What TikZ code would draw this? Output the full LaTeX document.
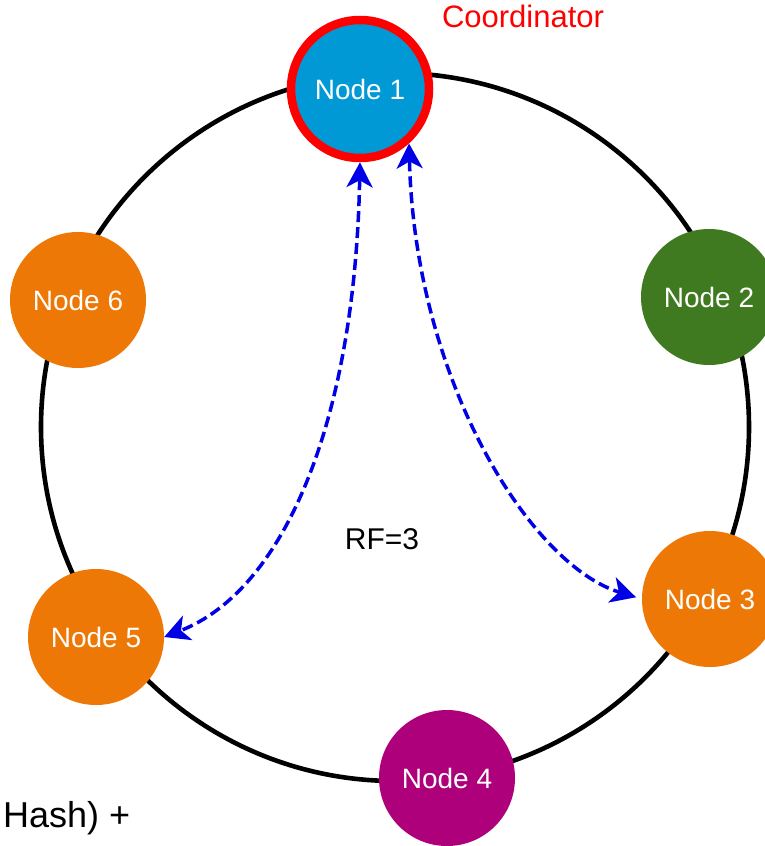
\documentclass[tikz,border=0pt]{standalone}
\usepackage{fontspec}
\setmainfont{Liberation Sans}
\usetikzlibrary{arrows.meta}
\definecolor{nblue}{RGB}{0,153,214}
\definecolor{ngreen}{RGB}{64,122,32}
\definecolor{norange}{RGB}{237,120,6}
\definecolor{nmagenta}{RGB}{173,0,122}
\definecolor{nred}{RGB}{255,0,0}
\definecolor{ablue}{RGB}{0,0,230}
\tikzset{
  ringnode/.style={circle, inner sep=0pt, minimum size=136pt, text=white,
    font=\fontsize{28}{32}\selectfont},
  link/.style={draw=ablue, line width=3.5pt, dash pattern=on 11pt off 5pt,
    {Stealth[length=25pt,width=26pt,inset=7pt]}-{Stealth[length=25pt,width=26pt,inset=7pt]}}
}
\begin{document}
\begin{tikzpicture}[x=1pt,y=-1pt]
\useasboundingbox (0,0) rectangle (765,846);
\node[circle, draw=black, line width=4.6pt, inner sep=0pt, minimum size=708pt] (ring) at (395,427) {};
\node[ringnode, fill=nblue, draw=nred, line width=8.5pt, minimum size=138pt] (n1) at (360,89) {Node 1};
\node[ringnode, fill=ngreen] (n2) at (709,297) {Node 2};
\node[ringnode, fill=norange] (n3) at (710,599) {Node 3};
\node[ringnode, fill=nmagenta] (n4) at (447,778) {Node 4};
\node[ringnode, fill=norange] (n5) at (96,637) {Node 5};
\node[ringnode, fill=norange] (n6) at (78,300) {Node 6};
\node[anchor=base, text=nred, font=\fontsize{31}{36}\selectfont] (coord) at (523,27) {Coordinator};
\node[anchor=base, font=\fontsize{30}{34}\selectfont] (rf) at (382,549) {RF=3};
\node[anchor=base west, inner sep=0pt, font=\fontsize{36}{40}\selectfont] (hash) at (3,827) {Hash) +};
\draw[link] (n1.south) .. controls (355,420) and (285,590) .. (n5.east);
\draw[link, shorten >=6pt] (n1.-48) .. controls (415,380) and (530,565) .. (n3.west);
\end{tikzpicture}
\end{document}
